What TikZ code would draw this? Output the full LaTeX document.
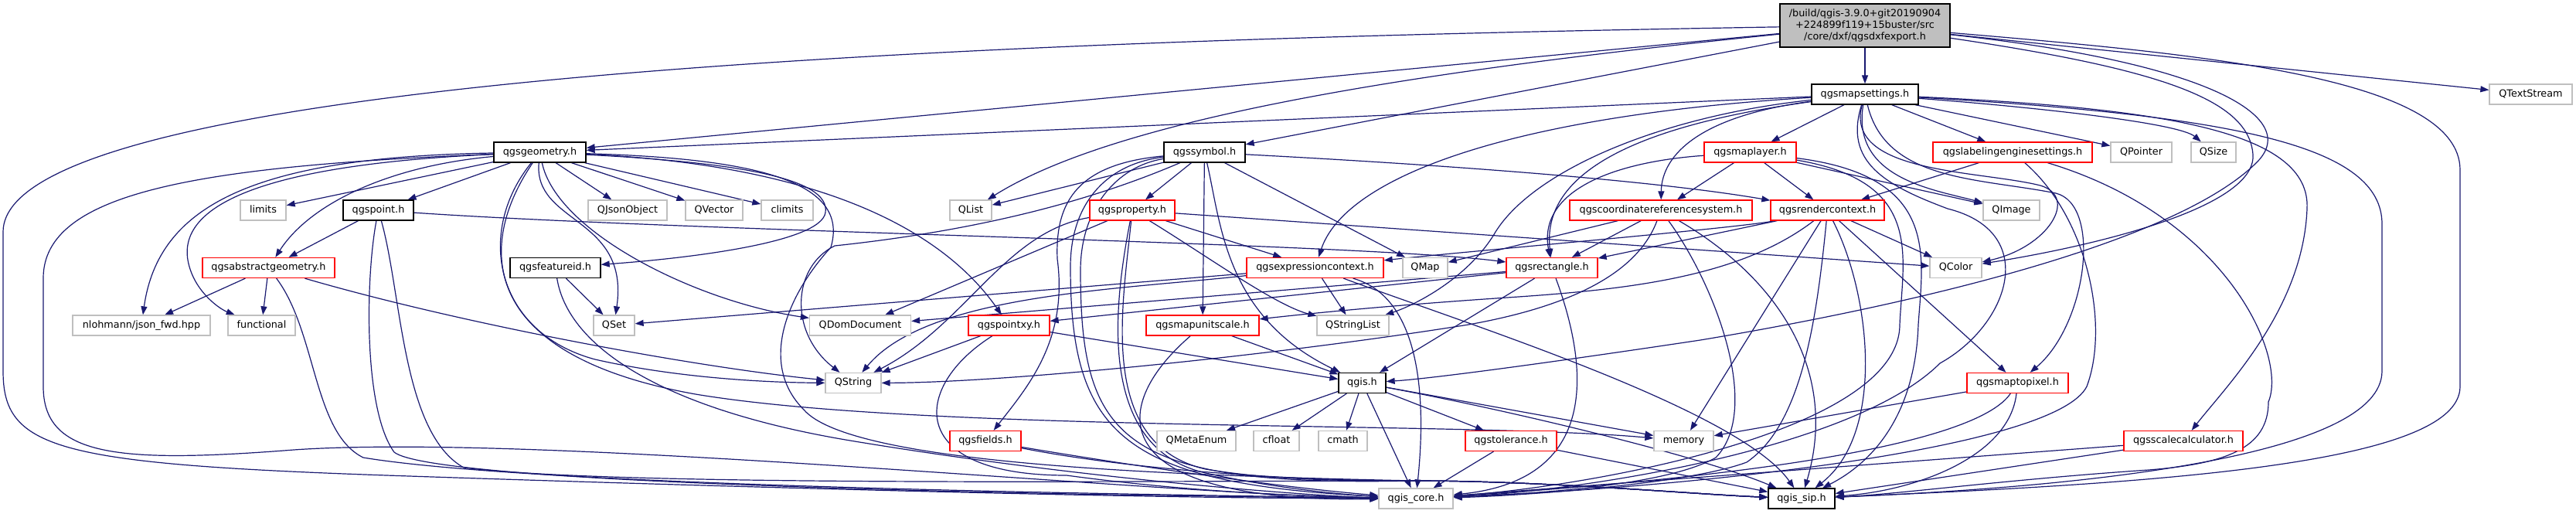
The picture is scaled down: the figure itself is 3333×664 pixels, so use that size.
\documentclass[tikz,border=0pt]{standalone}
\usepackage{fontspec}
\setmainfont{DejaVu Sans}
\usetikzlibrary{arrows.meta}
\definecolor{edgec}{RGB}{25,25,112}
\definecolor{greyb}{RGB}{191,191,191}
\definecolor{redb}{RGB}{255,0,0}
\pgfdeclarelayer{edgelayer}
\pgfsetlayers{edgelayer,main}
\tikzset{
  nbox/.style={draw, line width=1.3pt, fill=white, minimum height=26pt, inner sep=0pt, text height=9.4pt, text depth=3pt, font=\fontsize{12.8}{15}\selectfont},
  ext/.style={nbox, draw=greyb},
  trunc/.style={nbox, draw=redb},
  blk/.style={nbox, draw=black},
  rootn/.style={draw=black, line width=1.3pt, fill=greyb, inner sep=0pt, minimum height=56pt, align=center, font=\fontsize{12.8}{15}\selectfont},
  e/.style={draw=edgec, line width=1.2pt, -{Triangle[length=11pt,width=8pt]}},
}
\begin{document}
\begin{tikzpicture}[x=1pt,y=-1pt]
\useasboundingbox (0,0) rectangle (3333,664);
% row 1
\node[rootn, minimum width=220pt] (T) at (2413,33) {/build/qgis-3.9.0+git20190904\\+224899f119+15buster/src\\/core/dxf/qgsdxfexport.h};
% row 2
\node[blk, minimum width=138pt] (MS) at (2413,122) {qgsmapsettings.h};
\node[ext, minimum width=107pt] (TS) at (3274.5,122) {QTextStream};
% row 3
\node[blk, minimum width=119pt] (GEOM) at (698.5,197) {qgsgeometry.h};
\node[blk, minimum width=105pt] (SYM) at (1558.5,197) {qgssymbol.h};
\node[trunc, minimum width=119pt] (ML) at (2264.5,197) {qgsmaplayer.h};
\node[trunc, minimum width=206pt] (LES) at (2604,197) {qgslabelingenginesettings.h};
\node[ext, minimum width=79pt] (QPointer) at (2770.5,197) {QPointer};
\node[ext, minimum width=58pt] (QSize) at (2864,197) {QSize};
% row 4
\node[ext, minimum width=59pt] (limits) at (340.5,272) {limits};
\node[blk, minimum width=91pt] (PT) at (489.5,272) {qgspoint.h};
\node[ext, minimum width=102pt] (QJsonObject) at (812,272) {QJsonObject};
\node[ext, minimum width=74pt] (QVector) at (924,272) {QVector};
\node[ext, minimum width=67pt] (climits) at (1018.5,272) {climits};
\node[ext, minimum width=54pt] (QList) at (1256,272) {QList};
\node[trunc, minimum width=110pt] (PROP) at (1465,272) {qgsproperty.h};
\node[trunc, minimum width=236pt] (CRS) at (2149,272) {qgscoordinatereferencesystem.h};
\node[trunc, minimum width=147pt] (RC) at (2364.5,272) {qgsrendercontext.h};
\node[ext, minimum width=73pt] (QImage) at (2602.5,272) {QImage};
% row 5
\node[trunc, minimum width=171pt] (AG) at (347.5,346.5) {qgsabstractgeometry.h};
\node[blk, minimum width=117pt] (FID) at (718.5,346.5) {qgsfeatureid.h};
\node[trunc, minimum width=177pt] (EC) at (1701.5,346.5) {qgsexpressioncontext.h};
\node[ext, minimum width=58pt] (QMap) at (1844,346.5) {QMap};
\node[trunc, minimum width=118pt] (RECT) at (2008,346.5) {qgsrectangle.h};
\node[ext, minimum width=67pt] (QColor) at (2530.5,346.5) {QColor};
% row 6
\node[ext, minimum width=178pt] (nlohmann) at (183,421) {nlohmann/json\_fwd.hpp};
\node[ext, minimum width=87pt] (functional) at (338.5,421) {functional};
\node[ext, minimum width=53pt] (QSet) at (794.5,421) {QSet};
\node[ext, minimum width=131pt] (QDomDocument) at (1113,421) {QDomDocument};
\node[trunc, minimum width=105pt] (PXY) at (1305.5,421) {qgspointxy.h};
\node[trunc, minimum width=146pt] (MUS) at (1556,421) {qgsmapunitscale.h};
\node[ext, minimum width=93pt] (QStringList) at (1750.5,421) {QStringList};
% row 7
\node[ext, minimum width=72pt] (QString) at (1104,495.5) {QString};
\node[blk, minimum width=61pt] (QGIS) at (1762.5,495.5) {qgis.h};
\node[trunc, minimum width=131pt] (M2P) at (2610.5,495.5) {qgsmaptopixel.h};
% row 8
\node[trunc, minimum width=92pt] (FIELDS) at (1275,570.5) {qgsfields.h};
\node[ext, minimum width=102pt] (QMetaEnum) at (1548,570.5) {QMetaEnum};
\node[ext, minimum width=59pt] (cfloat) at (1651.5,570.5) {cfloat};
\node[ext, minimum width=63pt] (cmath) at (1737.5,570.5) {cmath};
\node[trunc, minimum width=118pt] (TOL) at (1955,570.5) {qgstolerance.h};
\node[ext, minimum width=77pt] (memory) at (2178.5,570.5) {memory};
\node[trunc, minimum width=154pt] (SC) at (2825,570.5) {qgsscalecalculator.h};
% row 9
\node[ext, minimum width=96pt] (CORE) at (1832,645) {qgis\_core.h};
\node[blk, minimum width=86pt] (SIP) at (2331,645) {qgis\_sip.h};

\begin{pgfonlayer}{edgelayer}
% T
\draw[e] (T) -- (MS);
\draw[e] (T) -- (TS);
\draw[e] (T) -- (GEOM);
\draw[e] (T) -- (SYM);
\draw[e] (T) .. controls (1850,90) and (1450,150) .. (QList);
\draw[e] (T) .. controls (1400,50) and (4,90) .. (4,300) -- (4,480) .. controls (4,580) and (70,600) .. (500,615) .. controls (1000,632) and (1500,645) .. (CORE);
\draw[e] (T) .. controls (2850,70) and (3183,100) .. (3183,220) -- (3183,500) .. controls (3183,600) and (2800,625) .. (SIP);
\draw[e] (T) .. controls (2850,80) and (2980,150) .. (2920,210) .. controls (2820,310) and (2500,390) .. (2200,440) .. controls (2000,470) and (1850,490) .. (QGIS);
\draw[e] (T) .. controls (2800,90) and (2910,130) .. (2915,200) .. controls (2920,270) and (2700,320) .. (QColor);
% MS
\draw[e] (MS) -- (GEOM);
\draw[e] (MS) -- (ML);
\draw[e] (MS) -- (LES);
\draw[e] (MS) -- (QPointer);
\draw[e] (MS) .. controls (2650,140) and (2820,160) .. (QSize);
\draw[e] (MS) .. controls (2395,230) and (2500,245) .. (QImage);
\draw[e] (MS) .. controls (2200,150) and (2150,200) .. (CRS);
\draw[e] (MS) .. controls (1950,150) and (1740,230) .. (EC);
\draw[e] (MS) .. controls (2100,165) and (1995,230) .. (RECT);
\draw[e] (MS) .. controls (2150,150) and (1985,220) .. (1935,300) .. controls (1900,360) and (1830,395) .. (QStringList);
\draw[e] (MS) .. controls (2385,225) and (2560,220) .. (2640,240) .. controls (2690,255) and (2650,320) .. (QColor);
\draw[e] (MS) .. controls (2440,235) and (2560,230) .. (2660,250) .. controls (2720,265) and (2700,420) .. (M2P);
\draw[e] (MS) .. controls (2800,140) and (2990,170) .. (2985,270) .. controls (2980,400) and (2880,500) .. (SC);
\draw[e] (MS) .. controls (2900,150) and (3082,190) .. (3082,290) -- (3082,480) .. controls (3082,590) and (2700,630) .. (SIP);
\draw[e] (MS) .. controls (2385,210) and (2440,240) .. (2520,270) .. controls (2640,300) and (2600,420) .. (2510,470) .. controls (2400,580) and (2050,635) .. (CORE);
% GEOM
\draw[e] (GEOM) -- (limits);
\draw[e] (GEOM) -- (PT);
\draw[e] (GEOM) -- (QJsonObject);
\draw[e] (GEOM) -- (QVector);
\draw[e] (GEOM) -- (climits);
\draw[e] (GEOM) .. controls (500,215) and (400,265) .. (AG);
\draw[e] (GEOM) .. controls (950,210) and (1075,230) .. (1068,275) .. controls (1062,315) and (880,335) .. (FID);
\draw[e] (GEOM) .. controls (330,203) and (205,265) .. (nlohmann);
\draw[e] (GEOM) .. controls (360,212) and (220,260) .. (245,345) .. controls (255,380) and (285,400) .. (functional);
\draw[e] (GEOM) .. controls (690,290) and (815,280) .. (QSet);
\draw[e] (GEOM) .. controls (720,300) and (900,390) .. (QDomDocument);
\draw[e] (GEOM) .. controls (615,300) and (640,430) .. (770,465) .. controls (880,490) and (1000,495) .. (QString);
\draw[e] (GEOM) .. controls (615,320) and (620,460) .. (900,510) .. controls (1200,560) and (1900,545) .. (memory);
\draw[e] (GEOM) .. controls (1000,210) and (1200,270) .. (PXY);
\draw[e] (GEOM) .. controls (250,215) and (56,250) .. (56,360) -- (56,500) .. controls (56,590) and (150,600) .. (380,582) .. controls (700,560) and (1500,640) .. (CORE);
\draw[e] (GEOM) .. controls (980,205) and (1100,235) .. (1075,320) .. controls (1020,380) and (980,470) .. (1040,530) .. controls (1100,600) and (1500,615) .. (1830,622) .. controls (2000,622) and (2200,640) .. (SIP);
% SYM
\draw[e] (SYM) -- (QList);
\draw[e] (SYM) -- (PROP);
\draw[e] (SYM) .. controls (1900,215) and (2150,235) .. (RC);
\draw[e] (SYM) -- (QMap);
\draw[e] (SYM) -- (MUS);
\draw[e] (SYM) .. controls (1395,212) and (1365,260) .. (1368,335) .. controls (1382,440) and (1330,500) .. (FIELDS);
\draw[e] (SYM) .. controls (1580,290) and (1585,410) .. (QGIS);
\draw[e] (SYM) .. controls (1400,265) and (1250,300) .. (1080,318) .. controls (1025,345) and (1020,430) .. (QString);
\draw[e] (SYM) .. controls (1430,212) and (1385,265) .. (1385,345) .. controls (1385,560) and (1450,625) .. (CORE);
\draw[e] (SYM) .. controls (1445,215) and (1398,270) .. (1398,350) .. controls (1398,570) and (1450,630) .. (1830,622) .. controls (2000,622) and (2200,640) .. (SIP);
% LES
\draw[e] (LES) -- (RC);
\draw[e] (LES) .. controls (2700,280) and (2730,420) .. (2700,500) .. controls (2660,580) and (2200,630) .. (CORE);
\draw[e] (LES) .. controls (2880,280) and (2960,460) .. (2935,520) .. controls (2935,580) and (2880,600) .. (2780,608) .. controls (2600,620) and (2450,640) .. (SIP);
% PT
\draw[e] (PT) -- (AG);
\draw[e] (PT) .. controls (900,300) and (1750,314) .. (RECT);
\draw[e] (PT) .. controls (473,360) and (470,530) .. (510,585) .. controls (560,625) and (1300,640) .. (CORE);
\draw[e] (PT) .. controls (520,380) and (520,560) .. (600,605) .. controls (800,630) and (1500,622) .. (1830,622) .. controls (2000,622) and (2200,640) .. (SIP);
% PROP
\draw[e] (PROP) -- (EC);
\draw[e] (PROP) -- (QDomDocument);
\draw[e] (PROP) .. controls (1300,300) and (1250,420) .. (QString);
\draw[e] (PROP) -- (QColor);
\draw[e] (PROP) .. controls (1560,330) and (1650,395) .. (QStringList);
\draw[e] (PROP) .. controls (1440,400) and (1420,580) .. (1560,612) .. controls (1650,632) and (1740,640) .. (CORE);
\draw[e] (PROP) .. controls (1452,400) and (1420,575) .. (1560,607) .. controls (1650,622) and (1750,622) .. (1830,622) .. controls (2000,622) and (2200,640) .. (SIP);
% CRS
\draw[e] (CRS) -- (QMap);
\draw[e] (CRS) -- (RECT);
\draw[e] (CRS) .. controls (2120,350) and (2040,395) .. (1900,420) .. controls (1650,460) and (1300,495) .. (QString);
\draw[e] (CRS) .. controls (2220,370) and (2280,530) .. (2220,592) .. controls (2150,632) and (1950,640) .. (CORE);
\draw[e] (CRS) .. controls (2300,360) and (2380,480) .. (SIP);
% RC
\draw[e] (RC) .. controls (2250,295) and (1900,325) .. (EC);
\draw[e] (RC) -- (RECT);
\draw[e] (RC) .. controls (2250,360) and (2100,375) .. (1950,385) .. controls (1800,395) and (1700,405) .. (MUS);
\draw[e] (RC) -- (memory);
\draw[e] (RC) .. controls (2350,420) and (2330,550) .. (2260,598) .. controls (2180,628) and (1950,642) .. (CORE);
\draw[e] (RC) .. controls (2420,380) and (2440,560) .. (SIP);
\draw[e] (RC) -- (M2P);
\draw[e] (RC) -- (QColor);
% ML
\draw[e] (ML) -- (CRS);
\draw[e] (ML) -- (RC);
\draw[e] (ML) .. controls (2080,210) and (1990,250) .. (RECT);
\draw[e] (ML) -- (QImage);
\draw[e] (ML) .. controls (2490,235) and (2462,330) .. (2458,420) .. controls (2458,560) and (2050,630) .. (CORE);
\draw[e] (ML) .. controls (2510,228) and (2488,330) .. (2482,420) .. controls (2478,540) and (2420,600) .. (SIP);
% AG
\draw[e] (AG) -- (nlohmann);
\draw[e] (AG) -- (functional);
\draw[e] (AG) .. controls (600,420) and (900,475) .. (QString);
\draw[e] (AG) .. controls (410,430) and (405,560) .. (470,592) .. controls (700,630) and (1500,640) .. (CORE);
% FID
\draw[e] (FID) -- (QSet);
\draw[e] (FID) .. controls (735,450) and (860,530) .. (1100,570) .. controls (1400,620) and (1700,642) .. (CORE);
% EC
\draw[e] (EC) -- (QSet);
\draw[e] (EC) .. controls (1450,375) and (1200,380) .. (QString);
\draw[e] (EC) -- (QStringList);
\draw[e] (EC) .. controls (1840,385) and (1845,520) .. (CORE);
\draw[e] (EC) .. controls (1900,420) and (2250,530) .. (SIP);
% RECT
\draw[e] (RECT) -- (QDomDocument);
\draw[e] (RECT) -- (PXY);
\draw[e] (RECT) -- (QGIS);
\draw[e] (RECT) .. controls (2050,460) and (2080,620) .. (CORE);
% PXY
\draw[e] (PXY) -- (QString);
\draw[e] (PXY) -- (QGIS);
\draw[e] (PXY) .. controls (1180,500) and (1170,615) .. (1380,615) .. controls (1550,638) and (1700,642) .. (CORE);
% MUS
\draw[e] (MUS) -- (QGIS);
\draw[e] (MUS) .. controls (1430,530) and (1430,650) .. (CORE);
% QGIS
\draw[e] (QGIS) -- (QMetaEnum);
\draw[e] (QGIS) -- (cfloat);
\draw[e] (QGIS) -- (cmath);
\draw[e] (QGIS) -- (TOL);
\draw[e] (QGIS) -- (memory);
\draw[e] (QGIS) -- (CORE);
\draw[e] (QGIS) .. controls (1950,530) and (2200,590) .. (SIP);
% M2P
\draw[e] (M2P) -- (memory);
\draw[e] (M2P) .. controls (2560,570) and (2300,615) .. (CORE);
\draw[e] (M2P) .. controls (2600,590) and (2480,635) .. (SIP);
% FIELDS
\draw[e] (FIELDS) .. controls (1450,600) and (1650,630) .. (CORE);
\draw[e] (FIELDS) .. controls (1450,605) and (1650,622) .. (1830,622) .. controls (2000,622) and (2200,640) .. (SIP);
% TOL
\draw[e] (TOL) -- (CORE);
\draw[e] (TOL) -- (SIP);
% SC
\draw[e] (SC) -- (CORE);
\draw[e] (SC) -- (SIP);
\end{pgfonlayer}
\end{tikzpicture}
\end{document}
